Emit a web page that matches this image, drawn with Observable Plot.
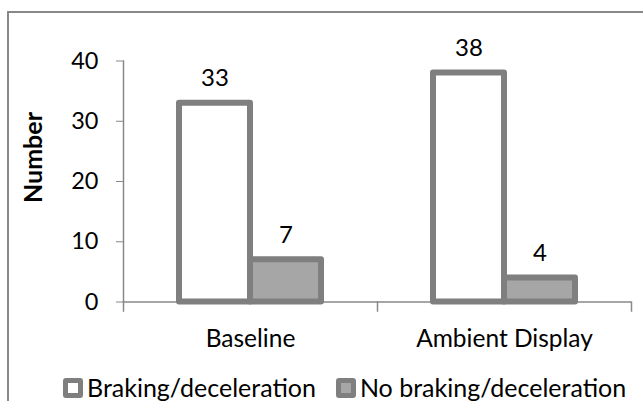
<!DOCTYPE html>
<html>
<head>
<meta charset="utf-8">
<script src="https://cdn.jsdelivr.net/npm/d3@7"></script>
<script src="https://cdn.jsdelivr.net/npm/@observablehq/plot@0.6"></script>
<style>
  html, body { margin: 0; padding: 0; background: #fff; }
  body { width: 643px; height: 401px; position: relative; overflow: hidden; font-family: Lato, sans-serif; }
  #border { position: absolute; left: 7px; top: 11px; width: 700px; height: 500px; border-left: 2px solid #888; border-top: 2px solid #888; box-sizing: border-box; }
  #chart { position: absolute; left: 0; top: 0; }
  #legend { position: absolute; left: 63px; top: 375px; height: 25px; display: flex; align-items: center; font-size: 25px; line-height: 25px; color: #000; white-space: nowrap; }
  .sw { width: 20px; height: 20px; box-sizing: border-box; border: 5px solid #7f7f7f; border-radius: 3px; margin-right: 4px; }
  .item { display: flex; align-items: center; margin-right: 20px; }
</style>
</head>
<body>
<div id="border"></div>
<div id="chart"></div>
<div id="legend"></div>
<script>
const categories = ["Baseline", "Ambient Display"];
const series = ["Braking/deceleration", "No braking/deceleration"];
const braking = [33, 38];
const noBraking = [7, 4];
const yTicks = [0, 10, 20, 30, 40];
const colors = ["#ffffff", "#a6a6a6"];

const data = [];
categories.forEach((c, i) => {
  data.push({cat: c, series: series[0], value: braking[i]});
  data.push({cat: c, series: series[1], value: noBraking[i]});
});

const axisColor = "#888888";
const barStroke = "#7f7f7f";

const chart = Plot.plot({
  width: 643,
  height: 365,
  marginLeft: 123,
  marginRight: 12,
  marginTop: 60.5,
  marginBottom: 63.5,
  style: {fontFamily: "Lato, sans-serif", color: "#000", background: "transparent"},
  fx: {domain: categories, padding: 0, label: null},
  x: {domain: series, paddingInner: 0, paddingOuter: 0.764, axis: null},
  y: {domain: [0, 40], axis: null},
  color: {domain: series, range: colors},
  marks: [
    Plot.axisY({ticks: yTicks, tickSize: 7, tickPadding: 18, stroke: axisColor, fill: "#000", fontSize: 23.5, label: null}),
    Plot.frame({anchor: "left", facetAnchor: "left", stroke: axisColor, strokeWidth: 1.5}),
    Plot.frame({anchor: "left", insetTop: 241, insetBottom: -9, stroke: axisColor, strokeWidth: 1.5}),
    Plot.frame({anchor: "right", facetAnchor: "right", insetTop: 241, insetBottom: -9, stroke: axisColor, strokeWidth: 1.5}),
    Plot.ruleY([0], {stroke: axisColor, strokeWidth: 1.5}),
    Plot.barY(data, {fx: "cat", x: "series", y: "value", fill: "series", stroke: barStroke, strokeWidth: 6, strokeLinejoin: "round"}),
    Plot.text(data, {fx: "cat", x: "series", y: "value", text: d => String(d.value), dy: -25, fontSize: 24, fill: "#000"}),
    Plot.axisFx({anchor: "bottom", tickSize: 0, tickPadding: 28, fontSize: 24.5, fill: "#000", label: null}),
    Plot.text(["Number"], {frameAnchor: "left", facetAnchor: "left", textAnchor: "middle", rotate: -90, dx: -90, dy: -24, fontSize: 25, fontWeight: "bold", fill: "#000"})
  ]
});
document.getElementById("chart").appendChild(chart);

const legend = document.getElementById("legend");
series.forEach((s, i) => {
  const item = document.createElement("div");
  item.className = "item";
  const sw = document.createElement("div");
  sw.className = "sw";
  sw.style.background = colors[i];
  const label = document.createElement("span");
  label.textContent = s;
  item.appendChild(sw);
  item.appendChild(label);
  legend.appendChild(item);
});
</script>
</body>
</html>
